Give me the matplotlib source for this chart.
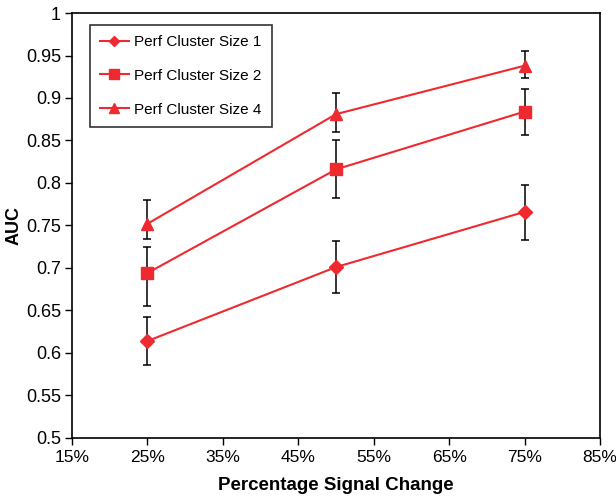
import matplotlib.pyplot as plt
from matplotlib.ticker import FuncFormatter

plt.rcParams['font.family'] = ['Liberation Sans', 'DejaVu Sans']

signal = [25, 50, 75]
labels = ["Perf Cluster Size 1", "Perf Cluster Size 2", "Perf Cluster Size 4"]
markers = ["D", "s", "^"]
marker_sizes = [7, 8.5, 9]

auc_1 = [0.614, 0.701, 0.766]
auc_2 = [0.694, 0.816, 0.884]
auc_4 = [0.752, 0.881, 0.938]

# error bar ends (lower, upper)
low_1 = [0.586, 0.670, 0.733]
high_1 = [0.642, 0.732, 0.798]
low_2 = [0.655, 0.782, 0.857]
high_2 = [0.725, 0.851, 0.910]
low_4 = [0.734, 0.860, 0.924]
high_4 = [0.780, 0.906, 0.955]

red = "#EE2A30"

fig = plt.figure(figsize=(6.16, 5.01), dpi=100)
ax = fig.add_axes([0.117, 0.126, 0.857, 0.848])

series = [(auc_1, low_1, high_1), (auc_2, low_2, high_2), (auc_4, low_4, high_4)]
for (vals, lo, hi), lab, m, ms in zip(series, labels, markers, marker_sizes):
    yerr = [[v - l for v, l in zip(vals, lo)], [h - v for v, h in zip(vals, hi)]]
    ax.errorbar(signal, vals, yerr=yerr, fmt="none", ecolor="black",
                elinewidth=1.1, capsize=3, capthick=1.1, zorder=2)
    ax.plot(signal, vals, color=red, marker=m, markersize=ms, linewidth=1.5,
            label=lab, zorder=3)

ax.set_xlim(15, 85)
ax.set_ylim(0.5, 1.0)
ax.set_xticks(range(15, 86, 10))
ax.set_yticks([0.5 + 0.05 * i for i in range(11)])
ax.xaxis.set_major_formatter(FuncFormatter(lambda v, p: "%d%%" % round(v)))
ax.yaxis.set_major_formatter(FuncFormatter(lambda v, p: "%g" % round(v, 2)))
ax.tick_params(direction="out", length=5, width=1, labelsize=13)
ax.tick_params(axis="x", labelsize=12.5)
ax.tick_params(axis="y", pad=3)
for s in ax.spines.values():
    s.set_linewidth(1.2)

ax.set_xlabel("Percentage Signal Change", fontsize=13.5, fontweight="bold", labelpad=9)
ax.set_ylabel("AUC", fontsize=13, fontweight="bold")
ax.yaxis.set_label_coords(-0.093, 0.5)

leg = ax.legend(loc="upper left", bbox_to_anchor=(0.034, 0.972), borderaxespad=0,
                fontsize=11, frameon=True, fancybox=False, edgecolor="black",
                handlelength=1.9, handletextpad=0.35, borderpad=0.65,
                labelspacing=1.3)
leg.get_frame().set_linewidth(1.2)
for h, ms in zip(leg.legend_handles, marker_sizes):
    h.set_markersize(ms * 0.8)

fig.savefig("out.png", dpi=100)
